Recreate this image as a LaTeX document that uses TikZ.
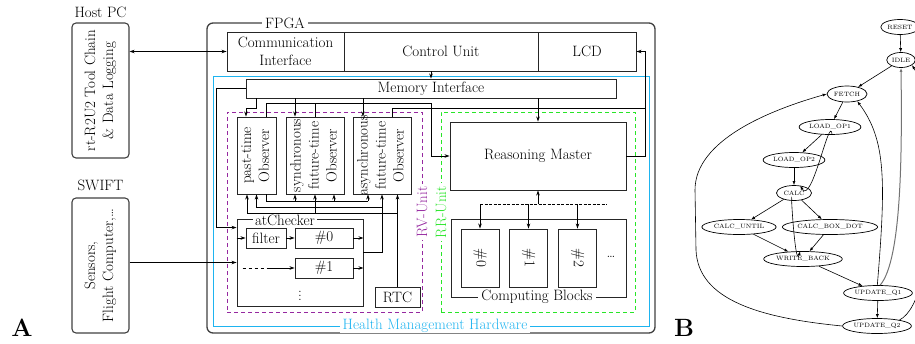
\documentclass[tikz,border=0pt]{standalone}
\usetikzlibrary{arrows.meta,shapes.geometric}

\definecolor{rvcol}{RGB}{150,40,160}
\definecolor{rrcol}{RGB}{40,230,40}
\definecolor{hmcol}{RGB}{30,180,240}

% rotated, centred, smashed multi-line text for the tall boxes
\newcommand\vlabel[2][90]{\smash{\raisebox{\dimexpr(\depth-\height)/2\relax}{\rotatebox{#1}{\begin{tabular}{@{}c@{}}#2\end{tabular}}}}}

\tikzset{every picture/.style={line width=0.8pt}}
\tikzset{
  box/.style={draw=black!85, line width=0.9pt, inner sep=0pt, align=center},
  rbox/.style={box, rounded corners=4pt, line width=1.1pt, draw=black!75},
  lbl/.style={fill=white, inner xsep=3pt, inner ysep=0pt},
  dbox/.style={draw, line width=0.9pt, inner sep=0pt, dash pattern=on 4pt off 3pt},
  gnode/.style={ellipse, draw, line width=0.7pt, inner xsep=1pt, inner ysep=1pt, minimum height=15pt, font=\fontsize{6.2}{7}\selectfont},
  garr/.style={-{Latex[length=4pt,width=3pt]}, line width=0.6pt},
}

\begin{document}
\begin{tikzpicture}[x=1pt,y=1pt,yscale=-1,font=\fontsize{15}{18}\selectfont,>={Stealth[length=5pt,width=3.5pt]}]
\useasboundingbox (0,0) rectangle (915,343);

%% part A
\node[font=\fontsize{25}{30}\selectfont\bfseries] (labA) at (22,328) {A};
\node (hostlbl) at (100.5,12) {Host PC};
\node[rbox, minimum width=57pt, minimum height=135pt] (host) at (100.5,90.5) {\vlabel{rt-R2U2 Tool Chain\\\& Data Logging}};
\node (swiftlbl) at (100.5,185) {SWIFT};
\node[rbox, minimum width=57pt, minimum height=135pt] (swift) at (100.5,265.5) {\vlabel{Sensors,\\Flight Computer,\ldots}};

% FPGA board
\node[rbox, rounded corners=6pt, line width=1.3pt, minimum width=448pt, minimum height=310pt] (fpga) at (431,178) {};
\node[lbl] (fpgalbl) at (285,23) {FPGA};
\node[box, minimum width=117pt, minimum height=39pt] (comm) at (285.5,51.5) {Communication\\Interface};
\node[box, minimum width=194pt, minimum height=39pt] (ctrl) at (441,51.5) {Control Unit};
\node[box, minimum width=98pt, minimum height=39pt] (lcd) at (587,51.5) {LCD};
\node[box, draw=hmcol, minimum width=436pt, minimum height=250pt] (hmh) at (431,201) {};
\node[lbl, text=hmcol] (hmlbl) at (435,326) {Health Management Hardware};
\node[box, fill=white, minimum width=370pt, minimum height=19pt] (mem) at (431,88.5) {Memory Interface};

% RV unit
\node[dbox, draw=rvcol, minimum width=195pt, minimum height=200pt] (rv) at (324.5,212) {};
\node[lbl, text=rvcol, rotate=90] (rvlbl) at (422,212) {RV-Unit};
\node[box, minimum width=39pt, minimum height=77pt] (pto) at (256.5,155.5) {\vlabel{past-time\\Observer}};
\node[box, minimum width=58pt, minimum height=77pt] (sfo) at (315,155.5) {\vlabel{synchronous\\future-time\\Observer}};
\node[box, minimum width=58pt, minimum height=77pt] (afo) at (382,155.5) {\vlabel{asynchronous\\future-time\\Observer}};
\node[box, minimum width=126pt, minimum height=87pt] (atck) at (300,262.5) {};
\node[lbl, inner xsep=2pt] (atlbl) at (285,220) {atChecker};
\node[box, minimum width=40pt, minimum height=20pt] (filt) at (266,238) {filter};
\node[box, minimum width=58pt, minimum height=20pt] (ck0) at (324,238) {\#0};
\node[box, minimum width=58pt, minimum height=20pt] (ck1) at (324,268) {\#1};
\node (ckdots) at (300,293) {\vdots};
\node[box, minimum width=45pt, minimum height=20pt] (rtc) at (397.5,297) {RTC};

% RR unit
\node[dbox, draw=rrcol, minimum width=194pt, minimum height=200pt] (rr) at (538,212) {};
\node[lbl, text=rrcol, rotate=90] (rrlbl) at (441,212) {RR-Unit};
\node[box, minimum width=176pt, minimum height=68pt] (rm) at (538,156) {Reasoning Master};
\node[box, minimum width=175pt, minimum height=78pt] (cb) at (538.5,258) {};
\node[lbl] (cblbl) at (537,297) {Computing Blocks};
\node[box, minimum width=38pt, minimum height=58pt] (cb0) at (480,258) {\vlabel[-90]{\#0}};
\node[box, minimum width=38pt, minimum height=58pt] (cb1) at (528.5,258) {\vlabel[-90]{\#1}};
\node[box, minimum width=38pt, minimum height=58pt] (cb2) at (577.5,258) {\vlabel[-90]{\#2}};
\node (cbdots) at (611,257) {\ldots};

% ports (yshift is flipped by yscale=-1: positive goes down)
\coordinate (ptoIn) at ([xshift=-10.5pt]pto.north);
\coordinate (ptoOut) at ([xshift=9.5pt]pto.north);
\coordinate (sfoIn) at ([xshift=-20pt]sfo.north);
\coordinate (afoIn) at ([xshift=-19pt]afo.north);
\coordinate (afoOut) at ([xshift=10pt]afo.north);
\coordinate (ptoB1) at ([xshift=-9.5pt]pto.south);
\coordinate (ptoB3) at ([xshift=9.5pt]pto.south);
\coordinate (sfoB1) at ([xshift=-20pt]sfo.south);
\coordinate (sfoB3) at ([xshift=19pt]sfo.south);
\coordinate (afoB1) at ([xshift=-14pt]afo.south);
\coordinate (obus) at ([yshift=5pt]mem.south);
\coordinate (abus) at ([yshift=10pt]mem.south);
\coordinate (lbus) at ([xshift=19pt]rm.east);
\coordinate (pbus) at ([yshift=7pt]pto.south);
\coordinate (cbus) at ([yshift=13pt]afo.south);
\coordinate (tbus) at ([yshift=19pt]pto.south);
\coordinate (rbus) at ([yshift=14pt]rm.south);
\coordinate (d0) at (atck.west |- ck1.west);

% wires
\draw[<->] (host.east |- comm.west) -- (comm.west);
\draw[->] (swift.east |- atck.west) -- (atck.west);
\draw[->] (mem.north |- ctrl.south) -- (mem.north);
\draw[->] (mem.west) -- ++(-29,0) |- ([yshift=9pt]atck.north west);
\draw[->] (mem.south -| pto.north) -- ++(0,10) -| (ptoIn);
\draw[->] (sfoIn |- mem.south) -- (sfoIn);
\draw[->] (afoIn |- mem.south) -- (afoIn);
\draw[->] (rm.north |- mem.south) -- (rm.north);
\draw[->] (ptoOut) |- (obus) |- (rm.west);
\draw (sfo.north) -- (sfo.north |- obus);
\draw (afoOut) |- (abus -| lbus);
\draw[->] (rm.east) -- (lbus) |- (lcd.east);

% below the observers
\draw (ptoB3) |- (afoB1 |- pbus);
\foreach \p in {sfoB1,sfoB3,afoB1}
  \draw[->] (\p |- pbus) -- (\p);
\draw[->] ([yshift=-10.5pt]atck.east) -| (afo.south);
\draw[->] (afo.south |- cbus) -| (pto.south);
\draw[->] (rtc.north) -- (rtc.north |- afo.south);
\draw[->] (rtc.north |- tbus) -| (ptoB1);
\draw[->] (sfo.south |- tbus) -- (sfo.south);

% inside atChecker
\draw[->] (atck.west |- filt.west) -- (filt.west);
\draw[->] (filt) -- (ck0);
\draw[->] (ck0) -- (ck0 -| atck.east);
\draw[->] (ck1) -- (ck1 -| atck.east);
\draw[dashed] ([xshift=6pt]d0) -- ([xshift=31pt]d0);
\draw[->] ([xshift=31pt]d0) -- (ck1.west);

% computing blocks
\draw[->] (rbus) -- (rm.south);
\draw[dash pattern=on 3pt off 1.5pt] (rbus -| cb0.north) -- ([xshift=69pt]rbus);
\foreach \b in {cb0,cb1,cb2}
  \draw[->] (rbus -| \b.north) -- (\b.north);

%% part B
\node[font=\fontsize{25}{30}\selectfont\bfseries] (labB) at (684,328) {B};
\node[gnode, minimum width=30pt] (reset) at (900,27) {RESET};
\node[gnode, minimum width=28pt] (idle) at (901,60) {IDLE};
\node[gnode, minimum width=36pt, minimum height=16pt] (fetch) at (847,94) {FETCH};
\node[gnode, minimum width=45pt] (lop1) at (830,127) {LOAD\_OP1};
\node[gnode, minimum width=52pt] (lop2) at (794,160) {LOAD\_OP2};
\node[gnode, minimum width=35pt] (calc) at (794,193) {CALC};
\node[gnode, minimum width=60pt] (cuntil) at (739,227) {CALC\_UNTIL};
\node[gnode, minimum width=67pt] (cbox) at (830,227) {CALC\_BOX\_DOT};
\node[gnode, minimum width=55pt] (wb) at (803,259) {WRITE\_BACK};
\node[gnode, minimum width=58pt] (uq1) at (878,293) {UPDATE\_Q1};
\node[gnode, minimum width=58pt] (uq2) at (877,326) {UPDATE\_Q2};

\draw[garr] (reset) -- (idle);
\draw[garr] (idle) -- (fetch);
\draw[garr] (fetch) -- (lop1);
\draw[garr] (lop1) -- (lop2);
\draw[garr] (lop1.-75) to[out=-95,in=60] (calc.50);
\draw[garr] (lop2) -- (calc);
\draw[garr] (calc) -- (cuntil);
\draw[garr] (calc) -- (cbox);
\draw[garr] (calc.255) to[out=-95,in=105] (wb.110);
\draw[garr] (cuntil) -- (wb);
\draw[garr] (cbox) -- (wb);
\draw[garr] (wb) -- (uq1);
\draw[garr] (uq1) -- (uq2);
\draw[garr] (uq1.95) .. controls (886,180) and (886,140) .. (fetch.-35);
\draw[garr, draw=black!55, line width=1pt] (uq1.75) .. controls (902,260) and (902,150) .. (idle.south);
\draw[garr] (uq2.15) .. controls (940,300) and (940,110) .. (idle.-25);
\draw[garr] (uq2.west) .. controls (760,318) and (698,300) .. (696,250) -- (695,190) .. controls (695,140) and (770,110) .. (fetch.west);

\end{tikzpicture}
\end{document}
